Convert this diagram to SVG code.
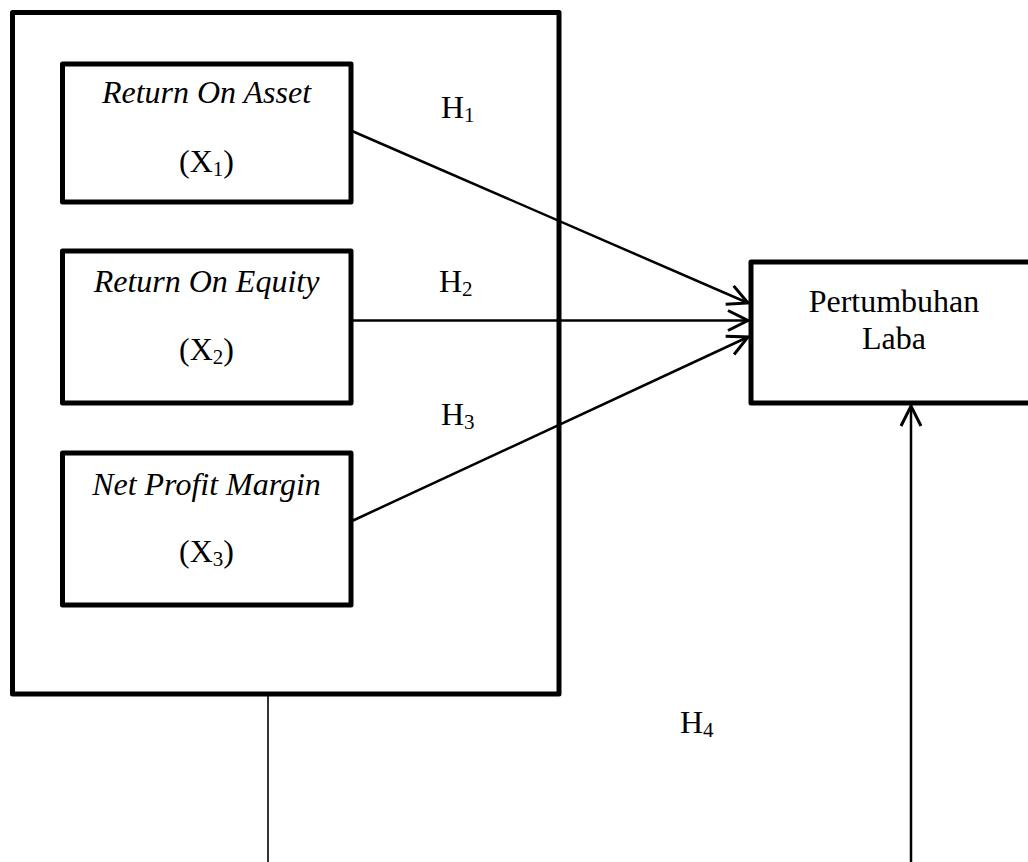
<svg xmlns="http://www.w3.org/2000/svg" width="1028" height="862" viewBox="0 0 1028 862">
<style>
.box{fill:none;stroke:#000;stroke-width:5;stroke-linejoin:round}
.t{font-family:"Liberation Serif","Times New Roman",serif;font-size:32px;fill:#000;text-anchor:middle}
.it{font-style:italic}
.sub{font-size:21px}
.h{font-family:"Liberation Serif","Times New Roman",serif;font-size:32px;fill:#000}
.c{fill:none;stroke:#000;stroke-width:2.5}
</style>
<defs>
<marker id="arr" markerUnits="userSpaceOnUse" markerWidth="30" markerHeight="30" orient="auto" overflow="visible">
<path d="M-20,-10 L0,0 L-20,10" fill="none" stroke="#000" stroke-width="3"/>
</marker>
</defs>
<g id="independent-group">
<rect class="box" x="12.5" y="12.5" width="546.5" height="681.5"/>
</g>
<g id="roa">
<rect class="box" x="62.5" y="64" width="288.5" height="138"/>
<text class="t it" x="206.5" y="103">Return On Asset</text>
<text class="t" x="206.5" y="172">(X<tspan class="sub" dy="4">1</tspan><tspan dy="-4">)</tspan></text>
</g>
<g id="roe">
<rect class="box" x="62.5" y="251" width="288.5" height="152"/>
<text class="t it" x="206.5" y="292">Return On Equity</text>
<text class="t" x="206.5" y="360">(X<tspan class="sub" dy="4">2</tspan><tspan dy="-4">)</tspan></text>
</g>
<g id="npm">
<rect class="box" x="62.5" y="453" width="288.5" height="152"/>
<text class="t it" x="206.5" y="495">Net Profit Margin</text>
<text class="t" x="206.5" y="562">(X<tspan class="sub" dy="4">3</tspan><tspan dy="-4">)</tspan></text>
</g>
<g id="pertumbuhan-laba">
<rect class="box" x="751" y="262" width="290" height="141"/>
<text class="t" x="894" y="312">Pertumbuhan</text>
<text class="t" x="894" y="349">Laba</text>
</g>
<g id="connectors">
<line class="c" x1="352" y1="131" x2="748" y2="303" marker-end="url(#arr)"/>
<line class="c" x1="352" y1="320.5" x2="748" y2="320.5" marker-end="url(#arr)"/>
<line class="c" x1="352" y1="521" x2="748" y2="337" marker-end="url(#arr)"/>
<line class="c" x1="268" y1="696" x2="268" y2="862" style="stroke-width:1.6"/>
<line class="c" x1="911" y1="862" x2="911" y2="406" marker-end="url(#arr)"/>
</g>
<g id="labels">
<text class="h" x="441" y="118">H<tspan class="sub" dy="4">1</tspan></text>
<text class="h" x="439" y="292">H<tspan class="sub" dy="4">2</tspan></text>
<text class="h" x="441" y="425">H<tspan class="sub" dy="4">3</tspan></text>
<text class="h" x="680" y="733">H<tspan class="sub" dy="4">4</tspan></text>
</g>
</svg>
